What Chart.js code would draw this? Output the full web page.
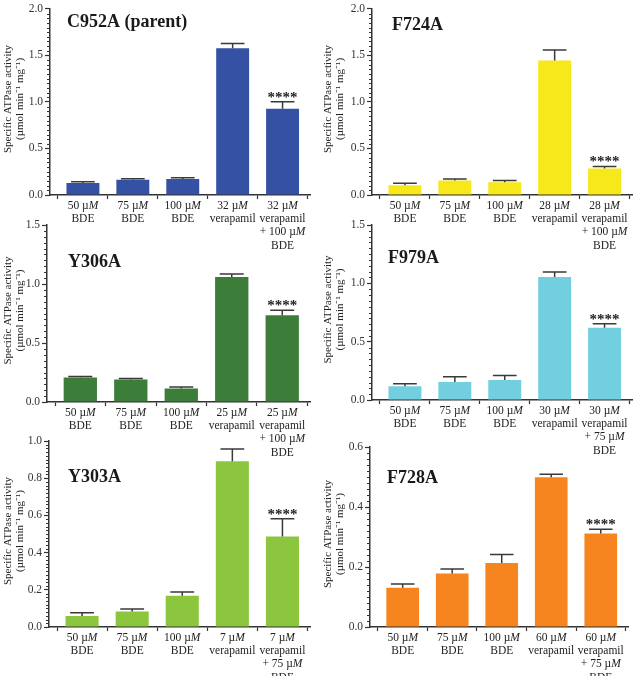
<!DOCTYPE html>
<html>
<head>
<meta charset="utf-8">
<script src="https://cdn.jsdelivr.net/npm/chart.js@4.4.1/dist/chart.umd.min.js"></script>
<style>
  html, body { margin: 0; padding: 0; background: #fff; }
  #wrap { position: relative; width: 640px; height: 676px; overflow: hidden; }
  #wrap canvas { position: absolute; }
</style>
</head>
<body>
<div id="wrap"></div>
<script>
// x labels (one array of lines per bar)
const c952aLabels = [["50 µM", "BDE"], ["75 µM", "BDE"], ["100 µM", "BDE"], ["32 µM", "verapamil"], ["32 µM", "verapamil", "+ 100 µM", "BDE"]];
const f724aLabels = [["50 µM", "BDE"], ["75 µM", "BDE"], ["100 µM", "BDE"], ["28 µM", "verapamil"], ["28 µM", "verapamil", "+ 100 µM", "BDE"]];
const y306aLabels = [["50 µM", "BDE"], ["75 µM", "BDE"], ["100 µM", "BDE"], ["25 µM", "verapamil"], ["25 µM", "verapamil", "+ 100 µM", "BDE"]];
const f979aLabels = [["50 µM", "BDE"], ["75 µM", "BDE"], ["100 µM", "BDE"], ["30 µM", "verapamil"], ["30 µM", "verapamil", "+ 75 µM", "BDE"]];
const y303aLabels = [["50 µM", "BDE"], ["75 µM", "BDE"], ["100 µM", "BDE"], ["7 µM", "verapamil"], ["7 µM", "verapamil", "+ 75 µM", "BDE"]];
const f728aLabels = [["50 µM", "BDE"], ["75 µM", "BDE"], ["100 µM", "BDE"], ["60 µM", "verapamil"], ["60 µM", "verapamil", "+ 75 µM", "BDE"]];

// specific ATPase activity (mean) and upper error bar
const c952aMean = [0.129, 0.164, 0.171, 1.578, 0.928];
const c952aErr  = [0.014, 0.011, 0.014, 0.049, 0.074];
const f724aMean = [0.105, 0.157, 0.136, 1.445, 0.286];
const f724aErr  = [0.021, 0.014, 0.021, 0.112, 0.021];
const y306aMean = [0.207, 0.190, 0.114, 1.060, 0.736];
const y306aErr  = [0.009, 0.009, 0.014, 0.025, 0.042];
const f979aMean = [0.117, 0.154, 0.171, 1.054, 0.620];
const f979aErr  = [0.023, 0.046, 0.038, 0.043, 0.034];
const y303aMean = [0.059, 0.084, 0.168, 0.891, 0.487];
const y303aErr  = [0.018, 0.013, 0.020, 0.066, 0.095];
const f728aMean = [0.131, 0.178, 0.213, 0.499, 0.312];
const f728aErr  = [0.012, 0.015, 0.029, 0.010, 0.014];

// significance mark on the last bar of each panel
const starText = "****";

const serif = '"Liberation Serif", "Times New Roman", serif';
const yTitle = ["Specific ATPase activity", "(µmol min⁻¹ mg⁻¹)"];

const panels = [
  { name: "C952A (parent)", labels: c952aLabels, values: c952aMean, errors: c952aErr, color: "#3551a4",
    yMax: 2.0, major: 0.5, minor: 0.05,
    canvas: { left: 0, top: 0, height: 252 }, area: { left: 50, top: 4, bottom: 195, right: 310 }, titleAt: [17, 18] },
  { name: "F724A", labels: f724aLabels, values: f724aMean, errors: f724aErr, color: "#f6e81a",
    yMax: 2.0, major: 0.5, minor: 0.05,
    canvas: { left: 320, top: 0, height: 252 }, area: { left: 372, top: 4, bottom: 195, right: 632 }, titleAt: [20, 21] },
  { name: "Y306A", labels: y306aLabels, values: y306aMean, errors: y306aErr, color: "#3c7d3a",
    yMax: 1.5, major: 0.5, minor: 0.05,
    canvas: { left: 0, top: 215, height: 262 }, area: { left: 47, top: 225, bottom: 402, right: 310 }, titleAt: [21, 42] },
  { name: "F979A", labels: f979aLabels, values: f979aMean, errors: f979aErr, color: "#72cfe0",
    yMax: 1.5, major: 0.5, minor: 0.05,
    canvas: { left: 320, top: 215, height: 262 }, area: { left: 372, top: 225, bottom: 400, right: 632 }, titleAt: [16, 38] },
  { name: "Y303A", labels: y303aLabels, values: y303aMean, errors: y303aErr, color: "#8cc63e",
    yMax: 1.0, major: 0.2, minor: 0.02,
    canvas: { left: 0, top: 430, height: 246 }, area: { left: 49, top: 441, bottom: 627, right: 310 }, titleAt: [19, 41] },
  { name: "F728A", labels: f728aLabels, values: f728aMean, errors: f728aErr, color: "#f6851f",
    yMax: 0.6, major: 0.2, minor: 0.02,
    canvas: { left: 320, top: 430, height: 246 }, area: { left: 370, top: 447, bottom: 627, right: 628 }, titleAt: [17, 36] }
];

// draws "50 µM" with an italic M
function drawMixed(ctx, text, cx, y, size) {
  const plain = size + "px " + serif;
  const ital = "italic " + size + "px " + serif;
  const parts = text.split("M");
  ctx.textAlign = "left";
  if (parts.length === 1) {
    ctx.font = plain;
    ctx.fillText(text, cx - ctx.measureText(text).width / 2, y);
    return;
  }
  ctx.font = plain;
  const w0 = ctx.measureText(parts[0]).width;
  const w2 = ctx.measureText(parts[1]).width;
  ctx.font = ital;
  const w1 = ctx.measureText("M").width;
  let x = cx - (w0 + w1 + w2) / 2;
  ctx.font = plain; ctx.fillText(parts[0], x, y); x += w0;
  ctx.font = ital; ctx.fillText("M", x, y); x += w1;
  ctx.font = plain; ctx.fillText(parts[1], x, y);
}

function makeDecor(p) {
  return {
    id: "decor",
    afterDatasetsDraw(chart) {
      const ctx = chart.ctx, ys = chart.scales.y;
      const bars = chart.getDatasetMeta(0).data;
      ctx.save();
      ctx.strokeStyle = "#3a3a3a";
      ctx.lineWidth = 1.5;
      bars.forEach((bar, i) => {
        const top = ys.getPixelForValue(p.values[i] + p.errors[i]);
        const half = bar.width * 0.36;
        ctx.beginPath();
        ctx.moveTo(bar.x, bar.y);
        ctx.lineTo(bar.x, top);
        ctx.moveTo(bar.x - half, top);
        ctx.lineTo(bar.x + half, top);
        ctx.stroke();
      });
      // stars over the last bar
      const last = bars.length - 1;
      const starY = ys.getPixelForValue(p.values[last] + p.errors[last]);
      ctx.fillStyle = "#222";
      ctx.font = "bold 15px " + serif;
      ctx.textAlign = "center";
      ctx.textBaseline = "alphabetic";
      ctx.fillText(starText, bars[last].x, starY);
      ctx.restore();
    },
    afterDraw(chart) {
      const ctx = chart.ctx, ys = chart.scales.y, xs = chart.scales.x, area = chart.chartArea;
      ctx.save();
      // minor ticks on y
      ctx.strokeStyle = "#333";
      ctx.lineWidth = 1;
      const per = Math.round(p.major / p.minor);
      const n = Math.round(p.yMax / p.minor);
      ctx.beginPath();
      for (let k = 0; k <= n; k++) {
        if (k % per === 0) continue;
        const y = Math.round(ys.getPixelForValue(k * p.minor)) + 0.5;
        ctx.moveTo(area.left - 3, y);
        ctx.lineTo(area.left, y);
      }
      ctx.stroke();

      // panel title
      ctx.fillStyle = "#1a1a1a";
      ctx.font = "bold 18px " + serif;
      ctx.textAlign = "left";
      ctx.textBaseline = "alphabetic";
      ctx.fillText(p.name, area.left + p.titleAt[0], area.top + p.titleAt[1]);

      // y axis title, two rotated lines
      ctx.fillStyle = "#222";
      ctx.font = "11px " + serif;
      ctx.textAlign = "center";
      ctx.textBaseline = "middle";
      const midY = (area.top + area.bottom) / 2 - 3;
      [8, 20].forEach((dx, j) => {
        ctx.save();
        ctx.translate(dx, midY);
        ctx.rotate(-Math.PI / 2);
        ctx.fillText(yTitle[j], 0, 0);
        ctx.restore();
      });

      // x labels
      ctx.fillStyle = "#222";
      ctx.textBaseline = "middle";
      p.labels.forEach((lines, i) => {
        const cx = xs.getPixelForValue(i);
        lines.forEach((line, j) => {
          drawMixed(ctx, line, cx, area.bottom + 10.5 + j * 13.4, 11.5);
        });
      });
      ctx.restore();
    }
  };
}

const wrap = document.getElementById("wrap");
panels.forEach(p => {
  const cv = document.createElement("canvas");
  cv.width = 320;
  cv.height = p.canvas.height;
  cv.style.left = p.canvas.left + "px";
  cv.style.top = p.canvas.top + "px";
  cv.style.width = "320px";
  cv.style.height = p.canvas.height + "px";
  wrap.appendChild(cv);

  new Chart(cv, {
    type: "bar",
    data: {
      datasets: [{
        data: p.values.map((v, i) => ({ x: i, y: v })),
        backgroundColor: p.color,
        borderWidth: 0,
        barPercentage: 0.66,
        categoryPercentage: 1
      }]
    },
    options: {
      responsive: false,
      animation: false,
      devicePixelRatio: 1,
      layout: {
        autoPadding: false,
        padding: { left: 0, top: p.area.top - p.canvas.top, right: p.canvas.left + 320 - p.area.right, bottom: 0 }
      },
      plugins: { legend: { display: false }, tooltip: { enabled: false } },
      scales: {
        x: {
          type: "linear", min: -0.66, max: 4.55, offset: false,
          grid: { drawOnChartArea: false, drawTicks: true, tickLength: 4, tickColor: "#333", tickWidth: 1.2 },
          border: { color: "#333", width: 1.5 },
          ticks: { stepSize: 1, includeBounds: false, autoSkip: false, callback: () => "" },
          afterFit(s) { s.height = p.canvas.height - (p.area.bottom - p.canvas.top); }
        },
        y: {
          min: 0, max: p.yMax,
          grid: { drawOnChartArea: false, tickLength: 5, tickColor: "#333", tickWidth: 1.2 },
          border: { color: "#333", width: 1.5 },
          ticks: { stepSize: p.major, color: "#333", font: { family: serif, size: 11.5 }, padding: 2,
                   callback: v => v.toFixed(1) },
          afterFit(s) { s.width = p.area.left - p.canvas.left; }
        }
      }
    },
    plugins: [makeDecor(p)]
  });
});
</script>
</body>
</html>
